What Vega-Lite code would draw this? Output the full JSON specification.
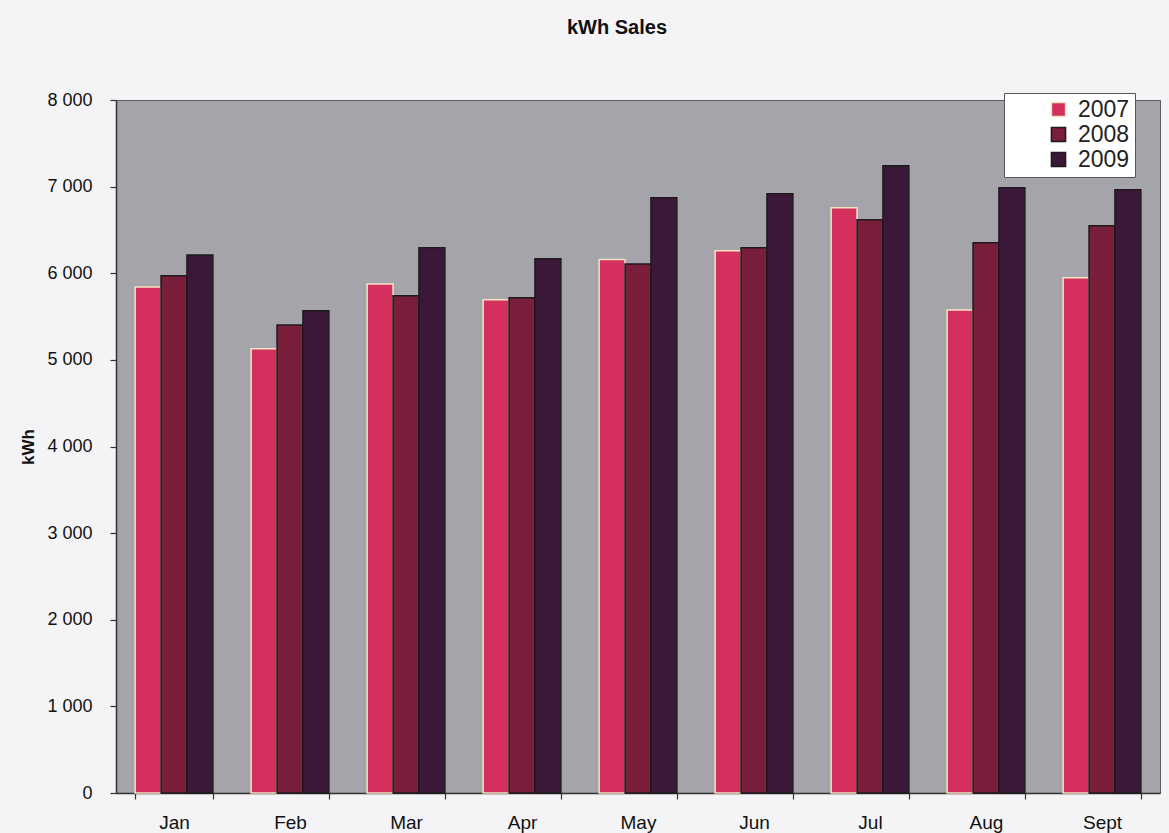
{
  "$schema": "https://vega.github.io/schema/vega-lite/v6.json",
  "autosize": {"type": "none"},
  "width": 1044,
  "height": 693,
  "padding": {"left": 116, "top": 100, "right": 9, "bottom": 40},
  "background": "#F4F4F6",
  "config": {
    "font": "Liberation Sans",
    "view": {"fill": "#A4A4AA", "stroke": "#5A5A5E", "strokeWidth": 1}
  },
  "title": {
    "text": "kWh Sales",
    "fontSize": 20,
    "fontWeight": "bold",
    "color": "#111111",
    "anchor": "middle",
    "offset": 53,
    "dx": -21
  },
  "data": {
    "values": [
      {"Month": "Jan", "Year": "2007", "kWh": 5840},
      {"Month": "Jan", "Year": "2008", "kWh": 5970},
      {"Month": "Jan", "Year": "2009", "kWh": 6210},
      {"Month": "Feb", "Year": "2007", "kWh": 5127},
      {"Month": "Feb", "Year": "2008", "kWh": 5404},
      {"Month": "Feb", "Year": "2009", "kWh": 5566},
      {"Month": "Mar", "Year": "2007", "kWh": 5877},
      {"Month": "Mar", "Year": "2008", "kWh": 5739},
      {"Month": "Mar", "Year": "2009", "kWh": 6293},
      {"Month": "Apr", "Year": "2007", "kWh": 5693},
      {"Month": "Apr", "Year": "2008", "kWh": 5716},
      {"Month": "Apr", "Year": "2009", "kWh": 6166},
      {"Month": "May", "Year": "2007", "kWh": 6160},
      {"Month": "May", "Year": "2008", "kWh": 6108},
      {"Month": "May", "Year": "2009", "kWh": 6871},
      {"Month": "Jun", "Year": "2007", "kWh": 6259},
      {"Month": "Jun", "Year": "2008", "kWh": 6293},
      {"Month": "Jun", "Year": "2009", "kWh": 6917},
      {"Month": "Jul", "Year": "2007", "kWh": 6755},
      {"Month": "Jul", "Year": "2008", "kWh": 6617},
      {"Month": "Jul", "Year": "2009", "kWh": 7240},
      {"Month": "Aug", "Year": "2007", "kWh": 5577},
      {"Month": "Aug", "Year": "2008", "kWh": 6351},
      {"Month": "Aug", "Year": "2009", "kWh": 6986},
      {"Month": "Sept", "Year": "2007", "kWh": 5947},
      {"Month": "Sept", "Year": "2008", "kWh": 6547},
      {"Month": "Sept", "Year": "2009", "kWh": 6963}
    ]
  },
  "mark": {"type": "bar", "strokeWidth": 1.5},
  "encoding": {
    "x": {
      "field": "Month",
      "type": "nominal",
      "sort": ["Jan", "Feb", "Mar", "Apr", "May", "Jun", "Jul", "Aug", "Sept"],
      "scale": {"paddingInner": 0.33, "paddingOuter": 0.165},
      "axis": {
        "title": null,
        "labelAngle": 0,
        "labelFontSize": 19,
        "labelColor": "#111111",
        "labelPadding": 14,
        "tickBand": "extent",
        "tickSize": 6,
        "tickColor": "#333333",
        "tickWidth": 1.2,
        "domainColor": "#333333",
        "domainWidth": 1.5
      }
    },
    "xOffset": {"field": "Year", "type": "nominal"},
    "y": {
      "field": "kWh",
      "type": "quantitative",
      "scale": {"domain": [0, 8000], "nice": false},
      "axis": {
        "title": "kWh",
        "titleFontSize": 17,
        "titleFontWeight": "bold",
        "titleColor": "#111111",
        "titlePadding": 9,
        "values": [0, 1000, 2000, 3000, 4000, 5000, 6000, 7000, 8000],
        "labelExpr": "replace(format(datum.value, ',d'), ',', ' ')",
        "labelFontSize": 18,
        "labelColor": "#111111",
        "labelPadding": 18,
        "tickSize": 6,
        "tickColor": "#333333",
        "tickWidth": 1.2,
        "domainColor": "#333333",
        "domainWidth": 1.5,
        "grid": false
      }
    },
    "color": {
      "field": "Year",
      "type": "nominal",
      "title": null,
      "scale": {"domain": ["2007", "2008", "2009"], "range": ["#D3305D", "#7A1F3B", "#3C1838"]},
      "legend": {
        "orient": "none",
        "legendX": 888,
        "legendY": -7,
        "fillColor": "#FFFFFF",
        "strokeColor": "#555555",
        "padding": 5,
        "symbolType": "square",
        "symbolSize": 200,
        "symbolOffset": 38,
        "labelFontSize": 23,
        "labelColor": "#222222",
        "labelOffset": 8,
        "rowPadding": 1
      }
    },
    "stroke": {
      "field": "Year",
      "type": "nominal",
      "title": null,
      "scale": {"domain": ["2007", "2008", "2009"], "range": ["#F3E3C3", "#1E1A1E", "#1E1A1E"]}
    }
  }
}
